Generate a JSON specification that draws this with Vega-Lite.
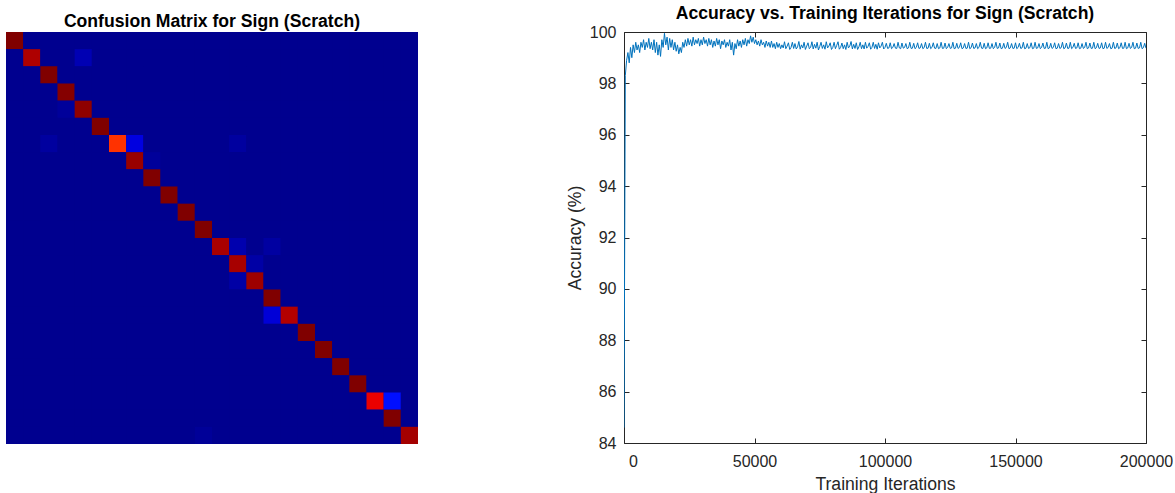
{
"$schema": "https://vega.github.io/schema/vega-lite/v6.json",
"background": "white",
"padding": {"left": 6, "top": 5, "right": 0, "bottom": 0},
"bounds": "flush",
"spacing": 206,
"config": {
  "view": {"stroke": null},
  "font": "Liberation Sans",
  "title": {"font": "Liberation Sans", "fontSize": 17.6, "fontWeight": "bold", "color": "#000000", "frame": "group", "anchor": "middle", "baseline": "alphabetic", "offset": 1},
  "axis": {"labelFont": "Liberation Sans", "titleFont": "Liberation Sans", "labelFontSize": 16, "titleFontSize": 17.6, "titleFontWeight": "normal", "labelColor": "#262626", "titleColor": "#262626", "domainColor": "#262626", "tickColor": "#262626", "grid": false, "tickSize": -5, "labelFlush": false}
},
"datasets": {
"cm": [
{"r":1,"c":1,"v":1},{"r":1,"c":2,"v":0},{"r":1,"c":3,"v":0},{"r":1,"c":4,"v":0},{"r":1,"c":5,"v":0},{"r":1,"c":6,"v":0},{"r":1,"c":7,"v":0},{"r":1,"c":8,"v":0},{"r":1,"c":9,"v":0},{"r":1,"c":10,"v":0},{"r":1,"c":11,"v":0},{"r":1,"c":12,"v":0},{"r":1,"c":13,"v":0},{"r":1,"c":14,"v":0},{"r":1,"c":15,"v":0},{"r":1,"c":16,"v":0},{"r":1,"c":17,"v":0},{"r":1,"c":18,"v":0},{"r":1,"c":19,"v":0},{"r":1,"c":20,"v":0},{"r":1,"c":21,"v":0},{"r":1,"c":22,"v":0},{"r":1,"c":23,"v":0},{"r":1,"c":24,"v":0},
{"r":2,"c":1,"v":0},{"r":2,"c":2,"v":0.955},{"r":2,"c":3,"v":0},{"r":2,"c":4,"v":0},{"r":2,"c":5,"v":0.04},{"r":2,"c":6,"v":0},{"r":2,"c":7,"v":0},{"r":2,"c":8,"v":0},{"r":2,"c":9,"v":0},{"r":2,"c":10,"v":0},{"r":2,"c":11,"v":0},{"r":2,"c":12,"v":0},{"r":2,"c":13,"v":0},{"r":2,"c":14,"v":0},{"r":2,"c":15,"v":0},{"r":2,"c":16,"v":0},{"r":2,"c":17,"v":0},{"r":2,"c":18,"v":0},{"r":2,"c":19,"v":0},{"r":2,"c":20,"v":0},{"r":2,"c":21,"v":0},{"r":2,"c":22,"v":0},{"r":2,"c":23,"v":0},{"r":2,"c":24,"v":0},
{"r":3,"c":1,"v":0},{"r":3,"c":2,"v":0},{"r":3,"c":3,"v":1},{"r":3,"c":4,"v":0},{"r":3,"c":5,"v":0},{"r":3,"c":6,"v":0},{"r":3,"c":7,"v":0},{"r":3,"c":8,"v":0},{"r":3,"c":9,"v":0},{"r":3,"c":10,"v":0},{"r":3,"c":11,"v":0},{"r":3,"c":12,"v":0},{"r":3,"c":13,"v":0},{"r":3,"c":14,"v":0},{"r":3,"c":15,"v":0},{"r":3,"c":16,"v":0},{"r":3,"c":17,"v":0},{"r":3,"c":18,"v":0},{"r":3,"c":19,"v":0},{"r":3,"c":20,"v":0},{"r":3,"c":21,"v":0},{"r":3,"c":22,"v":0},{"r":3,"c":23,"v":0},{"r":3,"c":24,"v":0},
{"r":4,"c":1,"v":0},{"r":4,"c":2,"v":0},{"r":4,"c":3,"v":0},{"r":4,"c":4,"v":0.995},{"r":4,"c":5,"v":0},{"r":4,"c":6,"v":0},{"r":4,"c":7,"v":0},{"r":4,"c":8,"v":0},{"r":4,"c":9,"v":0},{"r":4,"c":10,"v":0},{"r":4,"c":11,"v":0},{"r":4,"c":12,"v":0},{"r":4,"c":13,"v":0},{"r":4,"c":14,"v":0},{"r":4,"c":15,"v":0},{"r":4,"c":16,"v":0},{"r":4,"c":17,"v":0},{"r":4,"c":18,"v":0},{"r":4,"c":19,"v":0},{"r":4,"c":20,"v":0},{"r":4,"c":21,"v":0},{"r":4,"c":22,"v":0},{"r":4,"c":23,"v":0},{"r":4,"c":24,"v":0},
{"r":5,"c":1,"v":0},{"r":5,"c":2,"v":0},{"r":5,"c":3,"v":0},{"r":5,"c":4,"v":0.012},{"r":5,"c":5,"v":0.985},{"r":5,"c":6,"v":0},{"r":5,"c":7,"v":0},{"r":5,"c":8,"v":0},{"r":5,"c":9,"v":0},{"r":5,"c":10,"v":0},{"r":5,"c":11,"v":0},{"r":5,"c":12,"v":0},{"r":5,"c":13,"v":0},{"r":5,"c":14,"v":0},{"r":5,"c":15,"v":0},{"r":5,"c":16,"v":0},{"r":5,"c":17,"v":0},{"r":5,"c":18,"v":0},{"r":5,"c":19,"v":0},{"r":5,"c":20,"v":0},{"r":5,"c":21,"v":0},{"r":5,"c":22,"v":0},{"r":5,"c":23,"v":0},{"r":5,"c":24,"v":0},
{"r":6,"c":1,"v":0},{"r":6,"c":2,"v":0},{"r":6,"c":3,"v":0},{"r":6,"c":4,"v":0},{"r":6,"c":5,"v":0},{"r":6,"c":6,"v":1},{"r":6,"c":7,"v":0},{"r":6,"c":8,"v":0},{"r":6,"c":9,"v":0},{"r":6,"c":10,"v":0},{"r":6,"c":11,"v":0},{"r":6,"c":12,"v":0},{"r":6,"c":13,"v":0},{"r":6,"c":14,"v":0},{"r":6,"c":15,"v":0},{"r":6,"c":16,"v":0},{"r":6,"c":17,"v":0},{"r":6,"c":18,"v":0},{"r":6,"c":19,"v":0},{"r":6,"c":20,"v":0},{"r":6,"c":21,"v":0},{"r":6,"c":22,"v":0},{"r":6,"c":23,"v":0},{"r":6,"c":24,"v":0},
{"r":7,"c":1,"v":0},{"r":7,"c":2,"v":0},{"r":7,"c":3,"v":0.018},{"r":7,"c":4,"v":0},{"r":7,"c":5,"v":0},{"r":7,"c":6,"v":0},{"r":7,"c":7,"v":0.826},{"r":7,"c":8,"v":0.09},{"r":7,"c":9,"v":0},{"r":7,"c":10,"v":0},{"r":7,"c":11,"v":0},{"r":7,"c":12,"v":0},{"r":7,"c":13,"v":0},{"r":7,"c":14,"v":0.018},{"r":7,"c":15,"v":0},{"r":7,"c":16,"v":0},{"r":7,"c":17,"v":0},{"r":7,"c":18,"v":0},{"r":7,"c":19,"v":0},{"r":7,"c":20,"v":0},{"r":7,"c":21,"v":0},{"r":7,"c":22,"v":0},{"r":7,"c":23,"v":0},{"r":7,"c":24,"v":0},
{"r":8,"c":1,"v":0},{"r":8,"c":2,"v":0},{"r":8,"c":3,"v":0},{"r":8,"c":4,"v":0},{"r":8,"c":5,"v":0},{"r":8,"c":6,"v":0},{"r":8,"c":7,"v":0},{"r":8,"c":8,"v":0.975},{"r":8,"c":9,"v":0.012},{"r":8,"c":10,"v":0},{"r":8,"c":11,"v":0},{"r":8,"c":12,"v":0},{"r":8,"c":13,"v":0},{"r":8,"c":14,"v":0},{"r":8,"c":15,"v":0},{"r":8,"c":16,"v":0},{"r":8,"c":17,"v":0},{"r":8,"c":18,"v":0},{"r":8,"c":19,"v":0},{"r":8,"c":20,"v":0},{"r":8,"c":21,"v":0},{"r":8,"c":22,"v":0},{"r":8,"c":23,"v":0},{"r":8,"c":24,"v":0},
{"r":9,"c":1,"v":0},{"r":9,"c":2,"v":0},{"r":9,"c":3,"v":0},{"r":9,"c":4,"v":0},{"r":9,"c":5,"v":0},{"r":9,"c":6,"v":0},{"r":9,"c":7,"v":0},{"r":9,"c":8,"v":0},{"r":9,"c":9,"v":1},{"r":9,"c":10,"v":0},{"r":9,"c":11,"v":0},{"r":9,"c":12,"v":0},{"r":9,"c":13,"v":0},{"r":9,"c":14,"v":0},{"r":9,"c":15,"v":0},{"r":9,"c":16,"v":0},{"r":9,"c":17,"v":0},{"r":9,"c":18,"v":0},{"r":9,"c":19,"v":0},{"r":9,"c":20,"v":0},{"r":9,"c":21,"v":0},{"r":9,"c":22,"v":0},{"r":9,"c":23,"v":0},{"r":9,"c":24,"v":0},
{"r":10,"c":1,"v":0},{"r":10,"c":2,"v":0},{"r":10,"c":3,"v":0},{"r":10,"c":4,"v":0},{"r":10,"c":5,"v":0},{"r":10,"c":6,"v":0},{"r":10,"c":7,"v":0},{"r":10,"c":8,"v":0},{"r":10,"c":9,"v":0},{"r":10,"c":10,"v":1},{"r":10,"c":11,"v":0},{"r":10,"c":12,"v":0},{"r":10,"c":13,"v":0},{"r":10,"c":14,"v":0},{"r":10,"c":15,"v":0},{"r":10,"c":16,"v":0},{"r":10,"c":17,"v":0},{"r":10,"c":18,"v":0},{"r":10,"c":19,"v":0},{"r":10,"c":20,"v":0},{"r":10,"c":21,"v":0},{"r":10,"c":22,"v":0},{"r":10,"c":23,"v":0},{"r":10,"c":24,"v":0},
{"r":11,"c":1,"v":0},{"r":11,"c":2,"v":0},{"r":11,"c":3,"v":0},{"r":11,"c":4,"v":0},{"r":11,"c":5,"v":0},{"r":11,"c":6,"v":0},{"r":11,"c":7,"v":0},{"r":11,"c":8,"v":0},{"r":11,"c":9,"v":0},{"r":11,"c":10,"v":0},{"r":11,"c":11,"v":1},{"r":11,"c":12,"v":0},{"r":11,"c":13,"v":0},{"r":11,"c":14,"v":0},{"r":11,"c":15,"v":0},{"r":11,"c":16,"v":0},{"r":11,"c":17,"v":0},{"r":11,"c":18,"v":0},{"r":11,"c":19,"v":0},{"r":11,"c":20,"v":0},{"r":11,"c":21,"v":0},{"r":11,"c":22,"v":0},{"r":11,"c":23,"v":0},{"r":11,"c":24,"v":0},
{"r":12,"c":1,"v":0},{"r":12,"c":2,"v":0},{"r":12,"c":3,"v":0},{"r":12,"c":4,"v":0},{"r":12,"c":5,"v":0},{"r":12,"c":6,"v":0},{"r":12,"c":7,"v":0},{"r":12,"c":8,"v":0},{"r":12,"c":9,"v":0},{"r":12,"c":10,"v":0},{"r":12,"c":11,"v":0},{"r":12,"c":12,"v":1},{"r":12,"c":13,"v":0},{"r":12,"c":14,"v":0},{"r":12,"c":15,"v":0},{"r":12,"c":16,"v":0},{"r":12,"c":17,"v":0},{"r":12,"c":18,"v":0},{"r":12,"c":19,"v":0},{"r":12,"c":20,"v":0},{"r":12,"c":21,"v":0},{"r":12,"c":22,"v":0},{"r":12,"c":23,"v":0},{"r":12,"c":24,"v":0},
{"r":13,"c":1,"v":0},{"r":13,"c":2,"v":0},{"r":13,"c":3,"v":0},{"r":13,"c":4,"v":0},{"r":13,"c":5,"v":0},{"r":13,"c":6,"v":0},{"r":13,"c":7,"v":0},{"r":13,"c":8,"v":0},{"r":13,"c":9,"v":0},{"r":13,"c":10,"v":0},{"r":13,"c":11,"v":0},{"r":13,"c":12,"v":0},{"r":13,"c":13,"v":0.96},{"r":13,"c":14,"v":0.035},{"r":13,"c":15,"v":0},{"r":13,"c":16,"v":0.02},{"r":13,"c":17,"v":0},{"r":13,"c":18,"v":0},{"r":13,"c":19,"v":0},{"r":13,"c":20,"v":0},{"r":13,"c":21,"v":0},{"r":13,"c":22,"v":0},{"r":13,"c":23,"v":0},{"r":13,"c":24,"v":0},
{"r":14,"c":1,"v":0},{"r":14,"c":2,"v":0},{"r":14,"c":3,"v":0},{"r":14,"c":4,"v":0},{"r":14,"c":5,"v":0},{"r":14,"c":6,"v":0},{"r":14,"c":7,"v":0},{"r":14,"c":8,"v":0},{"r":14,"c":9,"v":0},{"r":14,"c":10,"v":0},{"r":14,"c":11,"v":0},{"r":14,"c":12,"v":0},{"r":14,"c":13,"v":0},{"r":14,"c":14,"v":0.962},{"r":14,"c":15,"v":0.025},{"r":14,"c":16,"v":0},{"r":14,"c":17,"v":0},{"r":14,"c":18,"v":0},{"r":14,"c":19,"v":0},{"r":14,"c":20,"v":0},{"r":14,"c":21,"v":0},{"r":14,"c":22,"v":0},{"r":14,"c":23,"v":0},{"r":14,"c":24,"v":0},
{"r":15,"c":1,"v":0},{"r":15,"c":2,"v":0},{"r":15,"c":3,"v":0},{"r":15,"c":4,"v":0},{"r":15,"c":5,"v":0},{"r":15,"c":6,"v":0},{"r":15,"c":7,"v":0},{"r":15,"c":8,"v":0},{"r":15,"c":9,"v":0},{"r":15,"c":10,"v":0},{"r":15,"c":11,"v":0},{"r":15,"c":12,"v":0},{"r":15,"c":13,"v":0},{"r":15,"c":14,"v":0.025},{"r":15,"c":15,"v":0.97},{"r":15,"c":16,"v":0},{"r":15,"c":17,"v":0},{"r":15,"c":18,"v":0},{"r":15,"c":19,"v":0},{"r":15,"c":20,"v":0},{"r":15,"c":21,"v":0},{"r":15,"c":22,"v":0},{"r":15,"c":23,"v":0},{"r":15,"c":24,"v":0},
{"r":16,"c":1,"v":0},{"r":16,"c":2,"v":0},{"r":16,"c":3,"v":0},{"r":16,"c":4,"v":0},{"r":16,"c":5,"v":0},{"r":16,"c":6,"v":0},{"r":16,"c":7,"v":0},{"r":16,"c":8,"v":0},{"r":16,"c":9,"v":0},{"r":16,"c":10,"v":0},{"r":16,"c":11,"v":0},{"r":16,"c":12,"v":0},{"r":16,"c":13,"v":0},{"r":16,"c":14,"v":0},{"r":16,"c":15,"v":0},{"r":16,"c":16,"v":1},{"r":16,"c":17,"v":0},{"r":16,"c":18,"v":0},{"r":16,"c":19,"v":0},{"r":16,"c":20,"v":0},{"r":16,"c":21,"v":0},{"r":16,"c":22,"v":0},{"r":16,"c":23,"v":0},{"r":16,"c":24,"v":0},
{"r":17,"c":1,"v":0},{"r":17,"c":2,"v":0},{"r":17,"c":3,"v":0},{"r":17,"c":4,"v":0},{"r":17,"c":5,"v":0},{"r":17,"c":6,"v":0},{"r":17,"c":7,"v":0},{"r":17,"c":8,"v":0},{"r":17,"c":9,"v":0},{"r":17,"c":10,"v":0},{"r":17,"c":11,"v":0},{"r":17,"c":12,"v":0},{"r":17,"c":13,"v":0},{"r":17,"c":14,"v":0},{"r":17,"c":15,"v":0},{"r":17,"c":16,"v":0.08},{"r":17,"c":17,"v":0.95},{"r":17,"c":18,"v":0},{"r":17,"c":19,"v":0},{"r":17,"c":20,"v":0},{"r":17,"c":21,"v":0},{"r":17,"c":22,"v":0},{"r":17,"c":23,"v":0},{"r":17,"c":24,"v":0},
{"r":18,"c":1,"v":0},{"r":18,"c":2,"v":0},{"r":18,"c":3,"v":0},{"r":18,"c":4,"v":0},{"r":18,"c":5,"v":0},{"r":18,"c":6,"v":0},{"r":18,"c":7,"v":0},{"r":18,"c":8,"v":0},{"r":18,"c":9,"v":0},{"r":18,"c":10,"v":0},{"r":18,"c":11,"v":0},{"r":18,"c":12,"v":0},{"r":18,"c":13,"v":0},{"r":18,"c":14,"v":0},{"r":18,"c":15,"v":0},{"r":18,"c":16,"v":0},{"r":18,"c":17,"v":0},{"r":18,"c":18,"v":1},{"r":18,"c":19,"v":0},{"r":18,"c":20,"v":0},{"r":18,"c":21,"v":0},{"r":18,"c":22,"v":0},{"r":18,"c":23,"v":0},{"r":18,"c":24,"v":0},
{"r":19,"c":1,"v":0},{"r":19,"c":2,"v":0},{"r":19,"c":3,"v":0},{"r":19,"c":4,"v":0},{"r":19,"c":5,"v":0},{"r":19,"c":6,"v":0},{"r":19,"c":7,"v":0},{"r":19,"c":8,"v":0},{"r":19,"c":9,"v":0},{"r":19,"c":10,"v":0},{"r":19,"c":11,"v":0},{"r":19,"c":12,"v":0},{"r":19,"c":13,"v":0},{"r":19,"c":14,"v":0},{"r":19,"c":15,"v":0},{"r":19,"c":16,"v":0},{"r":19,"c":17,"v":0},{"r":19,"c":18,"v":0},{"r":19,"c":19,"v":1},{"r":19,"c":20,"v":0},{"r":19,"c":21,"v":0},{"r":19,"c":22,"v":0},{"r":19,"c":23,"v":0},{"r":19,"c":24,"v":0},
{"r":20,"c":1,"v":0},{"r":20,"c":2,"v":0},{"r":20,"c":3,"v":0},{"r":20,"c":4,"v":0},{"r":20,"c":5,"v":0},{"r":20,"c":6,"v":0},{"r":20,"c":7,"v":0},{"r":20,"c":8,"v":0},{"r":20,"c":9,"v":0},{"r":20,"c":10,"v":0},{"r":20,"c":11,"v":0},{"r":20,"c":12,"v":0},{"r":20,"c":13,"v":0},{"r":20,"c":14,"v":0},{"r":20,"c":15,"v":0},{"r":20,"c":16,"v":0},{"r":20,"c":17,"v":0},{"r":20,"c":18,"v":0},{"r":20,"c":19,"v":0},{"r":20,"c":20,"v":1},{"r":20,"c":21,"v":0},{"r":20,"c":22,"v":0},{"r":20,"c":23,"v":0},{"r":20,"c":24,"v":0},
{"r":21,"c":1,"v":0},{"r":21,"c":2,"v":0},{"r":21,"c":3,"v":0},{"r":21,"c":4,"v":0},{"r":21,"c":5,"v":0},{"r":21,"c":6,"v":0},{"r":21,"c":7,"v":0},{"r":21,"c":8,"v":0},{"r":21,"c":9,"v":0},{"r":21,"c":10,"v":0},{"r":21,"c":11,"v":0},{"r":21,"c":12,"v":0},{"r":21,"c":13,"v":0},{"r":21,"c":14,"v":0},{"r":21,"c":15,"v":0},{"r":21,"c":16,"v":0},{"r":21,"c":17,"v":0},{"r":21,"c":18,"v":0},{"r":21,"c":19,"v":0},{"r":21,"c":20,"v":0},{"r":21,"c":21,"v":1},{"r":21,"c":22,"v":0},{"r":21,"c":23,"v":0},{"r":21,"c":24,"v":0},
{"r":22,"c":1,"v":0},{"r":22,"c":2,"v":0},{"r":22,"c":3,"v":0},{"r":22,"c":4,"v":0},{"r":22,"c":5,"v":0},{"r":22,"c":6,"v":0},{"r":22,"c":7,"v":0},{"r":22,"c":8,"v":0},{"r":22,"c":9,"v":0},{"r":22,"c":10,"v":0},{"r":22,"c":11,"v":0},{"r":22,"c":12,"v":0},{"r":22,"c":13,"v":0},{"r":22,"c":14,"v":0},{"r":22,"c":15,"v":0},{"r":22,"c":16,"v":0},{"r":22,"c":17,"v":0},{"r":22,"c":18,"v":0},{"r":22,"c":19,"v":0},{"r":22,"c":20,"v":0},{"r":22,"c":21,"v":0},{"r":22,"c":22,"v":0.895},{"r":22,"c":23,"v":0.14},{"r":22,"c":24,"v":0},
{"r":23,"c":1,"v":0},{"r":23,"c":2,"v":0},{"r":23,"c":3,"v":0},{"r":23,"c":4,"v":0},{"r":23,"c":5,"v":0},{"r":23,"c":6,"v":0},{"r":23,"c":7,"v":0},{"r":23,"c":8,"v":0},{"r":23,"c":9,"v":0},{"r":23,"c":10,"v":0},{"r":23,"c":11,"v":0},{"r":23,"c":12,"v":0},{"r":23,"c":13,"v":0},{"r":23,"c":14,"v":0},{"r":23,"c":15,"v":0},{"r":23,"c":16,"v":0},{"r":23,"c":17,"v":0},{"r":23,"c":18,"v":0},{"r":23,"c":19,"v":0},{"r":23,"c":20,"v":0},{"r":23,"c":21,"v":0},{"r":23,"c":22,"v":0},{"r":23,"c":23,"v":1},{"r":23,"c":24,"v":0},
{"r":24,"c":1,"v":0},{"r":24,"c":2,"v":0},{"r":24,"c":3,"v":0},{"r":24,"c":4,"v":0},{"r":24,"c":5,"v":0},{"r":24,"c":6,"v":0},{"r":24,"c":7,"v":0},{"r":24,"c":8,"v":0},{"r":24,"c":9,"v":0},{"r":24,"c":10,"v":0},{"r":24,"c":11,"v":0},{"r":24,"c":12,"v":0.01},{"r":24,"c":13,"v":0},{"r":24,"c":14,"v":0},{"r":24,"c":15,"v":0},{"r":24,"c":16,"v":0},{"r":24,"c":17,"v":0},{"r":24,"c":18,"v":0},{"r":24,"c":19,"v":0},{"r":24,"c":20,"v":0},{"r":24,"c":21,"v":0},{"r":24,"c":22,"v":0},{"r":24,"c":23,"v":0},{"r":24,"c":24,"v":0.965}
],
"acc": [
{"iter":0,"acc":84.6},{"iter":500,"acc":98.3},{"iter":1000,"acc":98.9},{"iter":1500,"acc":99.2},{"iter":2000,"acc":98.8},{"iter":2500,"acc":99.4},{"iter":3000,"acc":99.0},{"iter":3500,"acc":99.5},{"iter":4000,"acc":99.2},{"iter":4500,"acc":99.6},
{"iter":5000,"acc":99.3},{"iter":5500,"acc":99.5},{"iter":6000,"acc":99.2},{"iter":6500,"acc":99.6},{"iter":7000,"acc":99.4},{"iter":7500,"acc":99.7},{"iter":8000,"acc":99.3},{"iter":8500,"acc":99.6},{"iter":9000,"acc":99.4},{"iter":9500,"acc":99.75},
{"iter":10000,"acc":99.35},{"iter":10500,"acc":99.6},{"iter":11000,"acc":99.3},{"iter":11500,"acc":99.7},{"iter":12000,"acc":99.2},{"iter":12500,"acc":99.6},{"iter":13000,"acc":99.1},{"iter":13500,"acc":99.5},{"iter":14000,"acc":99.05},{"iter":14500,"acc":99.7},
{"iter":15000,"acc":99.4},{"iter":15500,"acc":99.95},{"iter":16000,"acc":99.5},{"iter":16500,"acc":99.8},{"iter":17000,"acc":99.3},{"iter":17500,"acc":99.75},{"iter":18000,"acc":99.4},{"iter":18500,"acc":99.7},{"iter":19000,"acc":99.3},{"iter":19500,"acc":99.6},
{"iter":20000,"acc":99.25},{"iter":20500,"acc":99.5},{"iter":21000,"acc":99.15},{"iter":21500,"acc":99.4},{"iter":22000,"acc":99.2},{"iter":22500,"acc":99.6},{"iter":23000,"acc":99.4},{"iter":23500,"acc":99.7},{"iter":24000,"acc":99.45},{"iter":24500,"acc":99.75},
{"iter":25000,"acc":99.5},{"iter":25500,"acc":99.7},{"iter":26000,"acc":99.45},{"iter":26500,"acc":99.8},{"iter":27000,"acc":99.5},{"iter":27500,"acc":99.7},{"iter":28000,"acc":99.55},{"iter":28500,"acc":99.75},{"iter":29000,"acc":99.45},{"iter":29500,"acc":99.7},
{"iter":30000,"acc":99.5},{"iter":30500,"acc":99.8},{"iter":31000,"acc":99.55},{"iter":31500,"acc":99.7},{"iter":32000,"acc":99.45},{"iter":32500,"acc":99.75},{"iter":33000,"acc":99.5},{"iter":33500,"acc":99.7},{"iter":34000,"acc":99.4},{"iter":34500,"acc":99.65},
{"iter":35000,"acc":99.45},{"iter":35500,"acc":99.75},{"iter":36000,"acc":99.5},{"iter":36500,"acc":99.7},{"iter":37000,"acc":99.35},{"iter":37500,"acc":99.65},{"iter":38000,"acc":99.5},{"iter":38500,"acc":99.7},{"iter":39000,"acc":99.4},{"iter":39500,"acc":99.6},
{"iter":40000,"acc":99.45},{"iter":40500,"acc":99.7},{"iter":41000,"acc":99.3},{"iter":41500,"acc":99.6},{"iter":42000,"acc":99.1},{"iter":42500,"acc":99.55},{"iter":43000,"acc":99.35},{"iter":43500,"acc":99.7},{"iter":44000,"acc":99.45},{"iter":44500,"acc":99.65},
{"iter":45000,"acc":99.4},{"iter":45500,"acc":99.7},{"iter":46000,"acc":99.5},{"iter":46500,"acc":99.75},{"iter":47000,"acc":99.45},{"iter":47500,"acc":99.7},{"iter":48000,"acc":99.55},{"iter":48500,"acc":99.85},{"iter":49000,"acc":99.6},{"iter":49500,"acc":99.8},
{"iter":50000,"acc":99.55},{"iter":50500,"acc":99.7},{"iter":51000,"acc":99.5},{"iter":51500,"acc":99.65},{"iter":52000,"acc":99.45},{"iter":52500,"acc":99.7},{"iter":53000,"acc":99.5},{"iter":53500,"acc":99.6},{"iter":54000,"acc":99.4},{"iter":54500,"acc":99.65},
{"iter":55000,"acc":99.45},{"iter":55500,"acc":99.6},{"iter":56000,"acc":99.4},{"iter":56500,"acc":99.65},{"iter":57000,"acc":99.4},{"iter":57500,"acc":99.55},{"iter":58000,"acc":99.35},{"iter":58500,"acc":99.6},{"iter":59000,"acc":99.4},{"iter":59500,"acc":99.55},
{"iter":60000,"acc":99.35},
{"iter":60500,"acc":99.5},{"iter":61000,"acc":99.38},{"iter":61500,"acc":99.62},{"iter":62000,"acc":99.35},{"iter":62500,"acc":99.45},{"iter":63000,"acc":99.58},{"iter":63500,"acc":99.32},{"iter":64000,"acc":99.4},{"iter":64500,"acc":99.6},{"iter":65000,"acc":99.36},
{"iter":65500,"acc":99.55},{"iter":66000,"acc":99.34},{"iter":66500,"acc":99.42},{"iter":67000,"acc":99.63},{"iter":67500,"acc":99.33},{"iter":68000,"acc":99.5},{"iter":68500,"acc":99.38},{"iter":69000,"acc":99.6},{"iter":69500,"acc":99.32},{"iter":70000,"acc":99.45},
{"iter":70500,"acc":99.58},{"iter":71000,"acc":99.35},{"iter":71500,"acc":99.4},{"iter":72000,"acc":99.62},{"iter":72500,"acc":99.34},{"iter":73000,"acc":99.52},{"iter":73500,"acc":99.37},{"iter":74000,"acc":99.6},{"iter":74500,"acc":99.3},{"iter":75000,"acc":99.44},
{"iter":75500,"acc":99.6},{"iter":76000,"acc":99.36},{"iter":76500,"acc":99.5},{"iter":77000,"acc":99.33},{"iter":77500,"acc":99.62},{"iter":78000,"acc":99.38},{"iter":78500,"acc":99.45},{"iter":79000,"acc":99.58},{"iter":79500,"acc":99.32},{"iter":80000,"acc":99.4},
{"iter":80500,"acc":99.6},{"iter":81000,"acc":99.35},{"iter":81500,"acc":99.48},{"iter":82000,"acc":99.62},{"iter":82500,"acc":99.33},{"iter":83000,"acc":99.4},{"iter":83500,"acc":99.57},{"iter":84000,"acc":99.35},{"iter":84500,"acc":99.5},{"iter":85000,"acc":99.32},
{"iter":85500,"acc":99.6},{"iter":86000,"acc":99.38},{"iter":86500,"acc":99.45},{"iter":87000,"acc":99.63},{"iter":87500,"acc":99.34},{"iter":88000,"acc":99.52},{"iter":88500,"acc":99.36},{"iter":89000,"acc":99.58},{"iter":89500,"acc":99.32},{"iter":90000,"acc":99.42},
{"iter":90500,"acc":99.6},{"iter":91000,"acc":99.35},{"iter":91500,"acc":99.5},{"iter":92000,"acc":99.34},{"iter":92500,"acc":99.6},{"iter":93000,"acc":99.37},{"iter":93500,"acc":99.44},{"iter":94000,"acc":99.58},{"iter":94500,"acc":99.33},{"iter":95000,"acc":99.4},
{"iter":95500,"acc":99.6},{"iter":96000,"acc":99.36},{"iter":96500,"acc":99.52},{"iter":97000,"acc":99.33},{"iter":97500,"acc":99.58},{"iter":98000,"acc":99.38},{"iter":98500,"acc":99.45},{"iter":99000,"acc":99.6},{"iter":99500,"acc":99.34},{"iter":100000,"acc":99.4},
{"iter":100500,"acc":99.56},{"iter":101000,"acc":99.36},{"iter":101500,"acc":99.38},{"iter":102000,"acc":99.58},{"iter":102500,"acc":99.35},{"iter":103000,"acc":99.4},{"iter":103500,"acc":99.55},{"iter":104000,"acc":99.37},{"iter":104500,"acc":99.36},{"iter":105000,"acc":99.6},
{"iter":105500,"acc":99.38},{"iter":106000,"acc":99.35},{"iter":106500,"acc":99.57},{"iter":107000,"acc":99.37},{"iter":107500,"acc":99.4},{"iter":108000,"acc":99.55},{"iter":108500,"acc":99.35},{"iter":109000,"acc":99.38},{"iter":109500,"acc":99.6},{"iter":110000,"acc":99.36},
{"iter":110500,"acc":99.37},{"iter":111000,"acc":99.56},{"iter":111500,"acc":99.35},{"iter":112000,"acc":99.4},{"iter":112500,"acc":99.58},{"iter":113000,"acc":99.36},{"iter":113500,"acc":99.38},{"iter":114000,"acc":99.55},{"iter":114500,"acc":99.35},{"iter":115000,"acc":99.39},
{"iter":115500,"acc":99.6},{"iter":116000,"acc":99.36},{"iter":116500,"acc":99.37},{"iter":117000,"acc":99.56},{"iter":117500,"acc":99.35},{"iter":118000,"acc":99.4},{"iter":118500,"acc":99.58},{"iter":119000,"acc":99.37},{"iter":119500,"acc":99.36},{"iter":120000,"acc":99.55},
{"iter":120500,"acc":99.35},{"iter":121000,"acc":99.38},{"iter":121500,"acc":99.6},{"iter":122000,"acc":99.36},{"iter":122500,"acc":99.37},{"iter":123000,"acc":99.57},{"iter":123500,"acc":99.35},{"iter":124000,"acc":99.4},{"iter":124500,"acc":99.55},{"iter":125000,"acc":99.36},
{"iter":125500,"acc":99.38},{"iter":126000,"acc":99.6},{"iter":126500,"acc":99.35},{"iter":127000,"acc":99.37},{"iter":127500,"acc":99.56},{"iter":128000,"acc":99.36},{"iter":128500,"acc":99.4},{"iter":129000,"acc":99.58},{"iter":129500,"acc":99.35},{"iter":130000,"acc":99.38},
{"iter":130500,"acc":99.55},{"iter":131000,"acc":99.36},{"iter":131500,"acc":99.37},{"iter":132000,"acc":99.6},{"iter":132500,"acc":99.35},{"iter":133000,"acc":99.39},{"iter":133500,"acc":99.57},{"iter":134000,"acc":99.36},{"iter":134500,"acc":99.38},{"iter":135000,"acc":99.55},
{"iter":135500,"acc":99.35},{"iter":136000,"acc":99.4},{"iter":136500,"acc":99.6},{"iter":137000,"acc":99.37},{"iter":137500,"acc":99.36},{"iter":138000,"acc":99.56},{"iter":138500,"acc":99.35},{"iter":139000,"acc":99.38},{"iter":139500,"acc":99.58},{"iter":140000,"acc":99.36},
{"iter":140500,"acc":99.37},{"iter":141000,"acc":99.55},{"iter":141500,"acc":99.35},{"iter":142000,"acc":99.4},{"iter":142500,"acc":99.6},{"iter":143000,"acc":99.36},{"iter":143500,"acc":99.38},{"iter":144000,"acc":99.57},{"iter":144500,"acc":99.35},{"iter":145000,"acc":99.37},
{"iter":145500,"acc":99.56},{"iter":146000,"acc":99.36},{"iter":146500,"acc":99.4},{"iter":147000,"acc":99.6},{"iter":147500,"acc":99.35},{"iter":148000,"acc":99.38},{"iter":148500,"acc":99.55},{"iter":149000,"acc":99.36},{"iter":149500,"acc":99.37},{"iter":150000,"acc":99.58},
{"iter":150500,"acc":99.35},{"iter":151000,"acc":99.4},{"iter":151500,"acc":99.56},{"iter":152000,"acc":99.36},{"iter":152500,"acc":99.38},{"iter":153000,"acc":99.6},{"iter":153500,"acc":99.35},{"iter":154000,"acc":99.37},{"iter":154500,"acc":99.55},{"iter":155000,"acc":99.36},
{"iter":155500,"acc":99.39},{"iter":156000,"acc":99.58},{"iter":156500,"acc":99.35},{"iter":157000,"acc":99.37},{"iter":157500,"acc":99.6},{"iter":158000,"acc":99.36},{"iter":158500,"acc":99.38},{"iter":159000,"acc":99.55},{"iter":159500,"acc":99.35},{"iter":160000,"acc":99.4},
{"iter":160500,"acc":99.57},{"iter":161000,"acc":99.36},{"iter":161500,"acc":99.37},{"iter":162000,"acc":99.6},{"iter":162500,"acc":99.35},{"iter":163000,"acc":99.38},{"iter":163500,"acc":99.56},{"iter":164000,"acc":99.36},{"iter":164500,"acc":99.4},{"iter":165000,"acc":99.58},
{"iter":165500,"acc":99.35},{"iter":166000,"acc":99.37},{"iter":166500,"acc":99.55},{"iter":167000,"acc":99.36},{"iter":167500,"acc":99.39},{"iter":168000,"acc":99.6},{"iter":168500,"acc":99.35},{"iter":169000,"acc":99.38},{"iter":169500,"acc":99.57},{"iter":170000,"acc":99.36},
{"iter":170500,"acc":99.37},{"iter":171000,"acc":99.6},{"iter":171500,"acc":99.35},{"iter":172000,"acc":99.4},{"iter":172500,"acc":99.56},{"iter":173000,"acc":99.36},{"iter":173500,"acc":99.38},{"iter":174000,"acc":99.58},{"iter":174500,"acc":99.35},{"iter":175000,"acc":99.37},
{"iter":175500,"acc":99.55},{"iter":176000,"acc":99.36},{"iter":176500,"acc":99.4},{"iter":177000,"acc":99.6},{"iter":177500,"acc":99.35},{"iter":178000,"acc":99.38},{"iter":178500,"acc":99.57},{"iter":179000,"acc":99.36},{"iter":179500,"acc":99.37},{"iter":180000,"acc":99.6},
{"iter":180500,"acc":99.35},{"iter":181000,"acc":99.39},{"iter":181500,"acc":99.56},{"iter":182000,"acc":99.36},{"iter":182500,"acc":99.38},{"iter":183000,"acc":99.58},{"iter":183500,"acc":99.35},{"iter":184000,"acc":99.37},{"iter":184500,"acc":99.6},{"iter":185000,"acc":99.36},
{"iter":185500,"acc":99.4},{"iter":186000,"acc":99.55},{"iter":186500,"acc":99.35},{"iter":187000,"acc":99.37},{"iter":187500,"acc":99.6},{"iter":188000,"acc":99.36},{"iter":188500,"acc":99.38},{"iter":189000,"acc":99.57},{"iter":189500,"acc":99.35},{"iter":190000,"acc":99.39},
{"iter":190500,"acc":99.58},{"iter":191000,"acc":99.36},{"iter":191500,"acc":99.37},{"iter":192000,"acc":99.6},{"iter":192500,"acc":99.35},{"iter":193000,"acc":99.38},{"iter":193500,"acc":99.56},{"iter":194000,"acc":99.36},{"iter":194500,"acc":99.4},{"iter":195000,"acc":99.6},
{"iter":195500,"acc":99.35},{"iter":196000,"acc":99.37},{"iter":196500,"acc":99.57},{"iter":197000,"acc":99.36},{"iter":197500,"acc":99.38},{"iter":198000,"acc":99.6},{"iter":198500,"acc":99.35},{"iter":199000,"acc":99.39},{"iter":199500,"acc":99.56},{"iter":200000,"acc":99.37}
]
},
"hconcat": [
{
  "width": 412, "height": 412,
  "view": {"fill": "#00008F", "stroke": null},
  "data": {"name": "cm"},
  "title": {"text": "Confusion Matrix for Sign (Scratch)"},
  "mark": {"type": "rect"},
  "encoding": {
    "x": {"field": "c", "type": "ordinal", "axis": null, "scale": {"paddingInner": 0, "paddingOuter": 0}},
    "y": {"field": "r", "type": "ordinal", "axis": null, "scale": {"paddingInner": 0, "paddingOuter": 0}},
    "color": {"field": "v", "type": "quantitative", "legend": null, "scale": {"type": "linear", "domain": [0, 0.125, 0.375, 0.625, 0.875, 1], "range": ["#00008F", "#0000FF", "#00FFFF", "#FFFF00", "#FF0000", "#800000"], "interpolate": "rgb"}}
  }
},
{
  "width": 522, "height": 411,
  "data": {"name": "acc"},
  "title": {"text": "Accuracy vs. Training Iterations for Sign (Scratch)"},
  "layer": [
    {
      "mark": {"type": "line", "color": "#0072BD", "strokeWidth": 1, "clip": true},
      "encoding": {
        "x": {"field": "iter", "type": "quantitative", "scale": {"domain": [0, 200000], "nice": false, "zero": false},
              "axis": {"title": "Training Iterations", "values": [0, 50000, 100000, 150000, 200000], "format": "d", "labelPadding": 15, "titlePadding": 6, "labelFlush": false,
                       "labelOffset": {"condition": {"test": "datum.value === 0", "value": 9}, "value": 0}}},
        "y": {"field": "acc", "type": "quantitative", "scale": {"domain": [84, 100], "nice": false, "zero": false},
              "axis": {"title": "Accuracy (%)", "values": [84, 86, 88, 90, 92, 94, 96, 98, 100], "labelPadding": 13, "titlePadding": 5, "labelFlush": false}}
      }
    },
    {
      "mark": {"type": "point", "opacity": 0},
      "encoding": {
        "x": {"field": "iter", "type": "quantitative", "axis": {"orient": "top", "labels": false, "title": null, "values": [0, 50000, 100000, 150000, 200000]}},
        "y": {"field": "acc", "type": "quantitative", "axis": {"orient": "right", "labels": false, "title": null, "values": [84, 86, 88, 90, 92, 94, 96, 98, 100]}}
      }
    }
  ],
  "resolve": {"axis": {"x": "independent", "y": "independent"}}
}
]
}
